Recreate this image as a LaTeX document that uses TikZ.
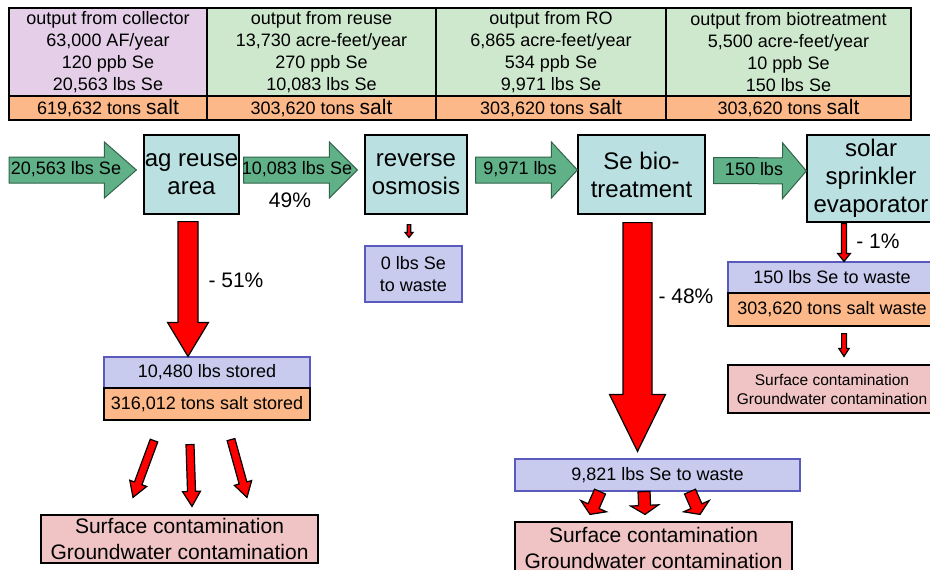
\documentclass[tikz,border=0pt]{standalone}
\usepackage{fontspec}
\setmainfont{Liberation Sans}
\usepackage{xcolor}
\usetikzlibrary{calc}

\definecolor{lilac}{RGB}{228,206,232}
\definecolor{mint}{RGB}{206,232,206}
\definecolor{saltorange}{RGB}{252,184,136}
\definecolor{cyanbox}{RGB}{186,224,226}
\definecolor{lavbox}{RGB}{200,202,238}
\definecolor{wasteblue}{RGB}{90,90,190}
\definecolor{pinkbox}{RGB}{240,196,196}
\definecolor{flowgreen}{RGB}{96,176,136}
\definecolor{flowedge}{RGB}{50,100,75}

\newcommand{\fsz}[2]{\fontsize{#1pt}{#2pt}\selectfont}
% block arrow: style, from, to, half body, half head, head length
\newcommand{\blockarrow}[6]{%
    \coordinate (ba) at #2;
    \coordinate (bb) at #3;
    \coordinate (bh) at ($(bb)!#6!(ba)$);
    \draw[#1] ($(ba)!#4!90:(bb)$) -- ($(bh)!#4!-90:(ba)$) -- ($(bh)!#5!-90:(ba)$) -- (bb)
        -- ($(bh)!#5!90:(ba)$) -- ($(bh)!#4!90:(ba)$) -- ($(ba)!#4!-90:(bb)$) -- cycle;
}

\begin{document}
\begin{tikzpicture}[x=0.5pt,y=-0.5pt,
    cell/.style={draw, line width=0.6pt, inner sep=0pt, align=center, font=\fsz{9}{11}},
    proc/.style={draw, line width=0.6pt, fill=cyanbox, inner sep=0pt, align=center, font=\fsz{12}{14}},
    waste/.style={draw=wasteblue, line width=0.6pt, fill=lavbox, inner sep=0pt, align=center, font=\fsz{9}{11}},
    saltbox/.style={draw, line width=0.6pt, fill=saltorange, inner sep=0pt, align=center, font=\fsz{9}{11}},
    contam/.style={draw, line width=0.6pt, fill=pinkbox, inner sep=0pt, align=center, font=\fsz{10.5}{13}},
    garrow/.style={fill=flowgreen, draw=flowedge, line width=0.5pt},
    rarrow/.style={fill=red, draw=black, line width=0.6pt},
    glabel/.style={inner sep=0pt, font=\fsz{9}{11}},
    pct/.style={inner sep=0pt, font=\fsz{10.5}{12}}]
    \useasboundingbox (0,0) rectangle (930,569);

    % Output table
    \node[cell, fill=lilac, minimum width=99pt, minimum height=44pt] (col1) at (108,52)
        {output from collector\\63,000 AF/year\\120 ppb Se\\20,563 lbs Se};
    \node[cell, fill=mint, minimum width=114.5pt, minimum height=44pt] (col2) at (321.5,52)
        {output from reuse\\13,730 acre-feet/year\\270 ppb Se\\10,083 lbs Se};
    \node[cell, fill=mint, minimum width=115pt, minimum height=44pt] (col3) at (551,52)
        {output from RO\\6,865 acre-feet/year\\534 ppb Se\\9,971 lbs Se};
    \node[cell, fill=mint, minimum width=122.5pt, minimum height=44pt] (col4) at (788.5,52)
        {output from biotreatment\\5,500 acre-feet/year\\10 ppb Se\\150 lbs Se};
    \node[cell, fill=saltorange, minimum width=99pt, minimum height=12pt] (salt1) at (108,108)
        {619,632 tons {\fsz{10.5}{12}salt}};
    \node[cell, fill=saltorange, minimum width=114.5pt, minimum height=12pt] (salt2) at (321.5,108)
        {303,620 tons {\fsz{10.5}{12}salt}};
    \node[cell, fill=saltorange, minimum width=115pt, minimum height=12pt] (salt3) at (551,108)
        {303,620 tons {\fsz{10.5}{12}salt}};
    \node[cell, fill=saltorange, minimum width=122.5pt, minimum height=12pt] (salt4) at (788.5,108)
        {303,620 tons {\fsz{10.5}{12}salt}};

    % Treatment steps
    \node[proc, minimum width=47.5pt, minimum height=39.5pt] (agbox) at (191.5,174.5) {ag reuse\\area};
    \node[proc, minimum width=51pt, minimum height=39.5pt] (robox) at (416,174.5) {reverse\\osmosis};
    \node[proc, minimum width=63.5pt, minimum height=39.5pt] (biobox) at (641.5,174.5) {Se bio-\\treatment};
    \node[proc, minimum width=64pt, minimum height=43.5pt] (solarbox) at (871,178.5) {solar\\sprinkler\\evaporator};

    % Sinks
    \node[waste, minimum width=48.5pt, minimum height=28pt] (waste0) at (413.5,274) {0 lbs Se\\to waste};
    \node[waste, minimum width=103pt, minimum height=15.5pt] (stored) at (207,372.5) {10,480 lbs stored};
    \node[saltbox, minimum width=103pt, minimum height=16pt] (saltstored) at (207,404) {316,012 tons salt stored};
    \node[waste, minimum width=142.5pt, minimum height=16pt] (waste2) at (657.5,475) {9,821 lbs Se to waste};
    \node[waste, minimum width=104pt, minimum height=15.5pt] (waste3) at (832,277.5) {150 lbs Se to waste};
    \node[saltbox, minimum width=104pt, minimum height=16.5pt] (saltwaste) at (832,309.5) {303,620 tons salt waste};
    \node[contam, minimum width=138.5pt, minimum height=24pt] (contam1) at (179.5,539)
        {Surface contamination\\Groundwater contamination};
    \node[contam, minimum width=138.5pt, minimum height=26pt] (contam2) at (653.5,548)
        {Surface contamination\\Groundwater contamination};
    \node[contam, font=\fsz{7.75}{9.5}, minimum width=104pt, minimum height=24pt] (contam3) at (832,389)
        {Surface contamination\\Groundwater contamination};

    % Se flow (green)
    \coordinate (src) at (9,170);
    \blockarrow{garrow}{(src)}{($(agbox.west)+(-7,-4.5)$)}{6.5pt}{14pt}{16pt}
    \blockarrow{garrow}{($(agbox.east)+(4,-4.5)$)}{($(robox.west)+(-7,-4.5)$)}{6.5pt}{14pt}{14pt}
    \blockarrow{garrow}{($(robox.east)+(8,-4.5)$)}{($(biobox.west)+(0,-4.5)$)}{6.5pt}{14pt}{13pt}
    \blockarrow{garrow}{($(biobox.east)+(8,-4)$)}{($(solarbox.west)+(0,-7.5)$)}{6.5pt}{14pt}{12pt}
    \node[glabel] (flow1) at (66,169) {20,563 lbs Se};
    \node[glabel] (flow2) at (297,169) {10,083 lbs Se};
    \node[glabel] (flow3) at (520,169) {9,971 lbs};
    \node[glabel] (flow4) at (754,169) {150 lbs};

    % Se losses (red)
    \blockarrow{rarrow}{($(agbox.south)+(-3.5,7)$)}{($(stored.north)+(-19,0)$)}{5pt}{10.25pt}{17pt}
    \blockarrow{rarrow}{($(robox.south)+(-7,10)$)}{($(waste0.north)+(-4.5,-8)$)}{0.9pt}{2pt}{2.5pt}
    \blockarrow{rarrow}{($(biobox.south)+(-4,8)$)}{($(waste2.north)+(-20,-7)$)}{7.25pt}{14pt}{28.5pt}
    \blockarrow{rarrow}{($(waste3.north)+(12,-38)$)}{($(waste3.north)+(12,0)$)}{1.25pt}{3.2pt}{4pt}
    \blockarrow{rarrow}{($(saltwaste.south)+(12,7)$)}{($(contam3.north)+(12,-8)$)}{1.2pt}{2.6pt}{4pt}
    \foreach \dx/\dy/\ex/\ey in {-53/20/-46.5/-17, -17/24/12.5/-8, 24/19/67.5/-17}
        \blockarrow{rarrow}{($(saltstored.south)+(\dx,\dy)$)}{($(contam1.north)+(\ex,\ey)$)}{2pt}{4.5pt}{7.5pt};
    \foreach \dx/\ex in {-57.5/-63.5, -13.5/-8.5, 32.5/46.5}
        \blockarrow{rarrow}{($(waste2.south)+(\dx,0)$)}{($(contam2.north)+(\ex,-7)$)}{3pt}{7pt}{4.5pt};

    % Percent labels
    \node[pct] (p49) at (290,200) {49\%};
    \node[pct] (p51) at (236,280) {- 51\%};
    \node[pct] (p48) at (686,296) {- 48\%};
    \node[pct] (p1) at (878,241) {- 1\%};
\end{tikzpicture}
\end{document}
